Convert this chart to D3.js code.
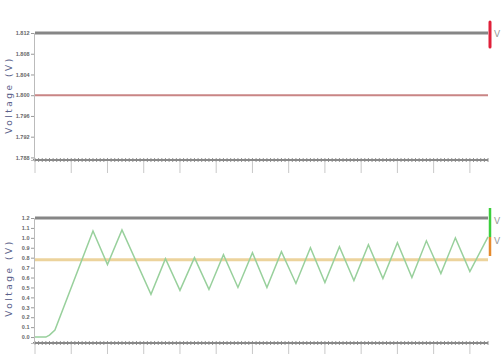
<!DOCTYPE html>
<html>
<head>
<meta charset="utf-8">
<script src="https://cdn.jsdelivr.net/npm/d3@7"></script>
<style>
  body { margin: 0; background: #fff; }
  svg { display: block; font-family: "DejaVu Sans", sans-serif; }
</style>
</head>
<body>
<div id="chart"></div>
<script>
// ---- data ----
const topTicks = [1.788, 1.792, 1.796, 1.800, 1.804, 1.808, 1.812];
const topLimit = 1.812;   // gray line
const topRef = 1.800;     // red line

const botTicks = [0, 0.1, 0.2, 0.3, 0.4, 0.5, 0.6, 0.7, 0.8, 0.9, 1.0, 1.1, 1.2];
const botLimit = 1.2;     // gray line
const botSetpoint = 0.78; // tan line

const respTime = [0, 0.3, 0.4, 0.55, 1.6, 2.0, 2.4, 3.2, 3.6, 4.0, 4.4, 4.8, 5.2, 5.6, 6.0,
  6.4, 6.8, 7.2, 7.6, 8.0, 8.4, 8.8, 9.2, 9.6, 10.0, 10.4, 10.8, 11.2, 11.6, 12.0, 12.5];
const respValue = [0, 0, 0.02, 0.07, 1.07, 0.73, 1.08, 0.43, 0.79, 0.47, 0.80, 0.48, 0.83, 0.50, 0.85,
  0.50, 0.86, 0.54, 0.90, 0.55, 0.91, 0.57, 0.93, 0.59, 0.95, 0.60, 0.97, 0.64, 1.00, 0.66, 1.01];

const timeDomain = [0, 12.5];
const legendTop = ['V'];
const legendBottom = ['V', 'V'];

// ---- layout ----
const W = 503, H = 354;
const left = 35, right = 488;

const svg = d3.select('#chart').append('svg')
  .attr('width', W).attr('height', H);

const x = d3.scaleLinear().domain(timeDomain).range([left, right]);

const panels = [
  { y: d3.scaleLinear().domain([1.7875, 1.812]).range([160, 33]), ticks: topTicks, fmt: d3.format('.3f'),
    axisY: 160, labelY: 95 },
  { y: d3.scaleLinear().domain([-0.06, 1.2]).range([343, 218]), ticks: botTicks, fmt: d3.format('.1f'),
    axisY: 343, labelY: 278 }
];

panels.forEach(p => {
  const g = svg.append('g');

  // x axis: dense minor ticks + light long major ticks
  const minor = d3.range(0, 12.51, 0.1);
  g.selectAll('.minor').data(minor).enter().append('line')
    .attr('x1', d => x(d)).attr('x2', d => x(d))
    .attr('y1', p.axisY - 2).attr('y2', p.axisY + 2)
    .attr('stroke', '#777').attr('stroke-width', 0.8);
  g.selectAll('.major').data(d3.range(0, 13, 1)).enter().append('line')
    .attr('x1', d => x(d)).attr('x2', d => x(d))
    .attr('y1', p.axisY).attr('y2', p.axisY + 13)
    .attr('stroke', '#c8c8c8').attr('stroke-width', 1);
  g.append('line')
    .attr('x1', left - 2).attr('x2', right)
    .attr('y1', p.axisY).attr('y2', p.axisY)
    .attr('stroke', '#888').attr('stroke-width', 2);

  // y axis
  const ya = g.append('g')
    .attr('transform', `translate(${left - 1},0)`)
    .call(d3.axisLeft(p.y).tickValues(p.ticks).tickFormat(p.fmt).tickSize(3).tickPadding(1.5));
  ya.select('.domain').attr('stroke', '#bbb');
  ya.selectAll('.tick line').attr('stroke', '#999');
  ya.selectAll('.tick text').attr('fill', '#666').style('font-size', '5.5px').style('font-weight', 'bold');

  g.append('text')
    .attr('transform', `translate(12,${p.labelY}) rotate(-90)`)
    .attr('text-anchor', 'middle')
    .attr('fill', '#5a5f8a')
    .style('font-size', '9px')
    .style('letter-spacing', '2.5px')
    .text('Voltage (V)');
});

const pt = panels[0], pb = panels[1];

// top panel lines
svg.append('line')
  .attr('x1', left).attr('x2', right)
  .attr('y1', pt.y(topLimit)).attr('y2', pt.y(topLimit))
  .attr('stroke', '#868686').attr('stroke-width', 3);
svg.append('line')
  .attr('x1', left).attr('x2', right)
  .attr('y1', pt.y(topRef)).attr('y2', pt.y(topRef))
  .attr('stroke', '#c98585').attr('stroke-width', 2);

// bottom panel lines
svg.append('line')
  .attr('x1', left).attr('x2', right)
  .attr('y1', pb.y(botLimit)).attr('y2', pb.y(botLimit))
  .attr('stroke', '#868686').attr('stroke-width', 3);
svg.append('line')
  .attr('x1', left).attr('x2', right)
  .attr('y1', pb.y(botSetpoint)).attr('y2', pb.y(botSetpoint))
  .attr('stroke', '#ecd39c').attr('stroke-width', 3);

const line = d3.line()
  .x((d, i) => x(respTime[i]))
  .y(d => pb.y(d))
  .curve(d3.curveLinear);
svg.append('path')
  .datum(respValue)
  .attr('d', line)
  .attr('fill', 'none')
  .attr('stroke', '#98d09c')
  .attr('stroke-width', 1.5);

// right side markers
svg.append('line')
  .attr('x1', 490).attr('x2', 490).attr('y1', 22).attr('y2', 47)
  .attr('stroke', '#e0203a').attr('stroke-width', 3).attr('stroke-linecap', 'round');
svg.append('line')
  .attr('x1', 490).attr('x2', 490).attr('y1', 208).attr('y2', 237)
  .attr('stroke', '#3ccf3c').attr('stroke-width', 2.5);
svg.append('line')
  .attr('x1', 490).attr('x2', 490).attr('y1', 237).attr('y2', 256)
  .attr('stroke', '#e58b2e').attr('stroke-width', 2.5);

legendTop.forEach(t => {
  svg.append('text').attr('x', 494).attr('y', 37)
    .attr('fill', '#999').style('font-size', '9px').text(t);
});
legendBottom.forEach((t, i) => {
  svg.append('text').attr('x', 494).attr('y', 224 + i * 20)
    .attr('fill', '#999').style('font-size', '9px').text(t);
});
</script>
</body>
</html>
